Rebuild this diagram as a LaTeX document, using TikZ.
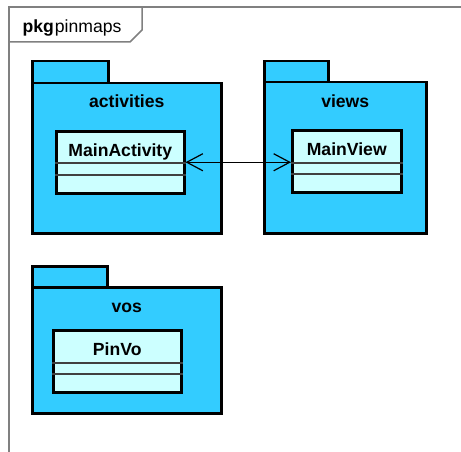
\documentclass[tikz,border=0pt]{standalone}
\usepackage{fontspec}
\setmainfont{Liberation Sans}
\usetikzlibrary{arrows.meta,positioning}
\definecolor{pkgblue}{HTML}{33CCFF}
\definecolor{clsfill}{HTML}{CCFFFF}
\definecolor{framegray}{HTML}{808080}

\begin{document}
\begin{tikzpicture}[x=1pt, y=-1pt, line width=0.5pt,
	frame/.style={draw=framegray, line width=1.5pt},
	pkgtab/.style={draw, fill=pkgblue, line width=2.5pt, anchor=north west, inner sep=0pt},
	pkgbody/.style={draw, fill=pkgblue, line width=2.5pt, anchor=north west, inner sep=0pt},
	cls/.style={draw, fill=clsfill, line width=2.5pt, anchor=north west, inner sep=0pt},
	comp/.style={draw=black!75, line width=1.2pt},
	title/.style={font=\fontsize{17.6}{20}\selectfont\bfseries, anchor=base, inner sep=0pt},
	assoc/.style={{Straight Barb[length=16pt,width=17pt]}-{Straight Barb[length=16pt,width=17pt]}, line width=1.2pt}]
	\useasboundingbox (0,0) rectangle (461,452);
	% diagram frame
	\draw[frame] (461,7) -- (9,7) -- (9,452);
	\draw[frame] (9,42) -- (130,42) -- (142,30) -- (142,7);
	\node[anchor=base, inner sep=0pt, font=\fontsize{17.6}{20}\selectfont] (frametitle) at (72,33) {\textbf{pkg}\kern1pt pinmaps};
	% activities
	\node[pkgtab, minimum width=76, minimum height=22] (activitiestab) at (31,60) {};
	\node[pkgbody, minimum width=189, minimum height=150] (activities) at (31,82) {};
	\node[title] (activitieslabel) at ([yshift=-25pt]activities.north) {activities};
	\node[cls, minimum width=128, minimum height=62] (mainactivity) at (55,130) {};
	\node[title] (mainactivityname) at ([yshift=-26pt]mainactivity.north) {MainActivity};
	\draw[comp] ([yshift=-33pt]mainactivity.north west) -- ([yshift=-33pt]mainactivity.north east);
	\draw[comp] ([yshift=-45pt]mainactivity.north west) -- ([yshift=-45pt]mainactivity.north east);
	% views
	\node[pkgtab, minimum width=64, minimum height=21] (viewstab) at (263,60) {};
	\node[pkgbody, minimum width=162, minimum height=151] (views) at (263,81) {};
	\node[title] (viewslabel) at ([yshift=-26pt]views.north) {views};
	\node[cls, minimum width=109, minimum height=62] (mainview) at (291,129) {};
	\node[title] (mainviewname) at ([yshift=-26pt]mainview.north) {MainView};
	\draw[comp] ([yshift=-34pt]mainview.north west) -- ([yshift=-34pt]mainview.north east);
	\draw[comp] ([yshift=-45pt]mainview.north west) -- ([yshift=-45pt]mainview.north east);
	% vos
	\node[pkgtab, minimum width=75, minimum height=21] (vostab) at (31,265) {};
	\node[pkgbody, minimum width=189, minimum height=126] (vos) at (31,286) {};
	\node[title] (voslabel) at ([yshift=-26pt]vos.north) {vos};
	\node[cls, minimum width=128, minimum height=62] (pinvo) at (52,329) {};
	\node[title] (pinvoname) at ([yshift=-26pt]pinvo.north) {PinVo};
	\draw[comp] ([yshift=-34pt]pinvo.north west) -- ([yshift=-34pt]pinvo.north east);
	\draw[comp] ([yshift=-45pt]pinvo.north west) -- ([yshift=-45pt]pinvo.north east);
	% association
	\draw[assoc] (mainactivity.east) -- (mainactivity.east -| mainview.west);
\end{tikzpicture}
\end{document}
